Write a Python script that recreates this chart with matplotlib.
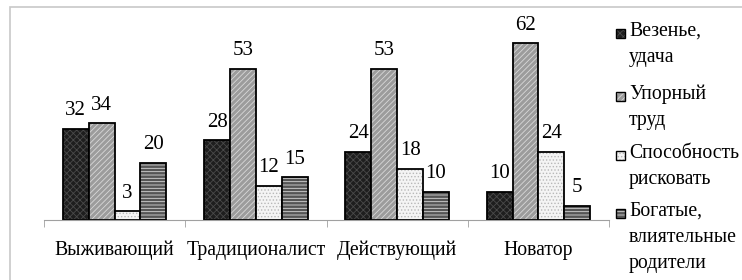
import numpy as np
import matplotlib
matplotlib.use('Agg')
from matplotlib import pyplot as plt
from matplotlib.patches import Rectangle

plt.rcParams['font.family'] = ['Liberation Serif', 'DejaVu Serif']
plt.rcParams['hatch.linewidth'] = 0.6

categories = ['Выживающий', 'Традиционалист', 'Действующий', 'Новатор']
series_names = ['Везенье,\nудача', 'Упорный\nтруд', 'Способность\nрисковать', 'Богатые,\nвлиятельные\nродители']
luck = [32, 28, 24, 10]
work = [34, 53, 53, 62]
risk = [3, 12, 18, 24]
parents = [20, 15, 10, 5]
values = [luck, work, risk, parents]

faces = ['#1e1e1e', '#9c9c9c', '#f4f4f4', '#555555']
hatch_colors = ['#4a4a4a', '#d8d8d8', '#b8b8b8', '#d8d8d8']
hatches = ['xxxxx', '//////', '.....', '-----']

fig = plt.figure(figsize=(7.42, 2.8), dpi=100)
fig.patches.append(Rectangle((10 / 742, -0.05), 1.0, 1 - 7 / 280 + 0.05,
                             transform=fig.transFigure, fill=False,
                             edgecolor='#c8c8c8', linewidth=1.2))
ax = fig.add_axes([44 / 742, 1 - 220 / 280, 565 / 742, 0.7125])

x = np.arange(len(categories))
w = 0.183
for i, vals in enumerate(values):
    pos = x + (i - 1.5) * w
    ax.bar(pos, vals, w, color=faces[i], edgecolor=hatch_colors[i],
           hatch=hatches[i], linewidth=0)
    ax.bar(pos, vals, w, fill=False, edgecolor='black', linewidth=1.3)
    for p, v in zip(pos, vals):
        ax.text(p, v + 3, str(v), ha='center', va='bottom', fontsize=15)

ax.set_xlim(-0.5, 3.5)
ax.set_ylim(0, 70)
ax.set_yticks([])
for s in ['top', 'right', 'left']:
    ax.spines[s].set_visible(False)
ax.spines['bottom'].set_color('#a0a0a0')
ax.set_xticks(x)
ax.set_xticklabels(categories, fontsize=14.2)
ax.tick_params(axis='x', length=0, pad=15)
ax.set_xticks(np.arange(-0.5, 4, 1), minor=True)
ax.tick_params(axis='x', which='minor', length=5, color='#a0a0a0')

# legend drawn by hand so the marker sits on the first line
entry_y = [33, 96, 155, 213]
for i, name in enumerate(series_names):
    yy = 1 - entry_y[i] / 280
    fig.patches.append(Rectangle((616 / 742, yy - 4.5 / 280), 9 / 742, 9 / 280,
                                 transform=fig.transFigure, facecolor=faces[i],
                                 edgecolor=hatch_colors[i], hatch=hatches[i],
                                 linewidth=0))
    fig.patches.append(Rectangle((616 / 742, yy - 4.5 / 280), 9 / 742, 9 / 280,
                                 transform=fig.transFigure, fill=False,
                                 edgecolor='black', linewidth=1))
    fig.text(629 / 742, yy + 11 / 280, name, ha='left', va='top',
             fontsize=14.2, linespacing=1.5)

fig.savefig('out.png', dpi=100)
